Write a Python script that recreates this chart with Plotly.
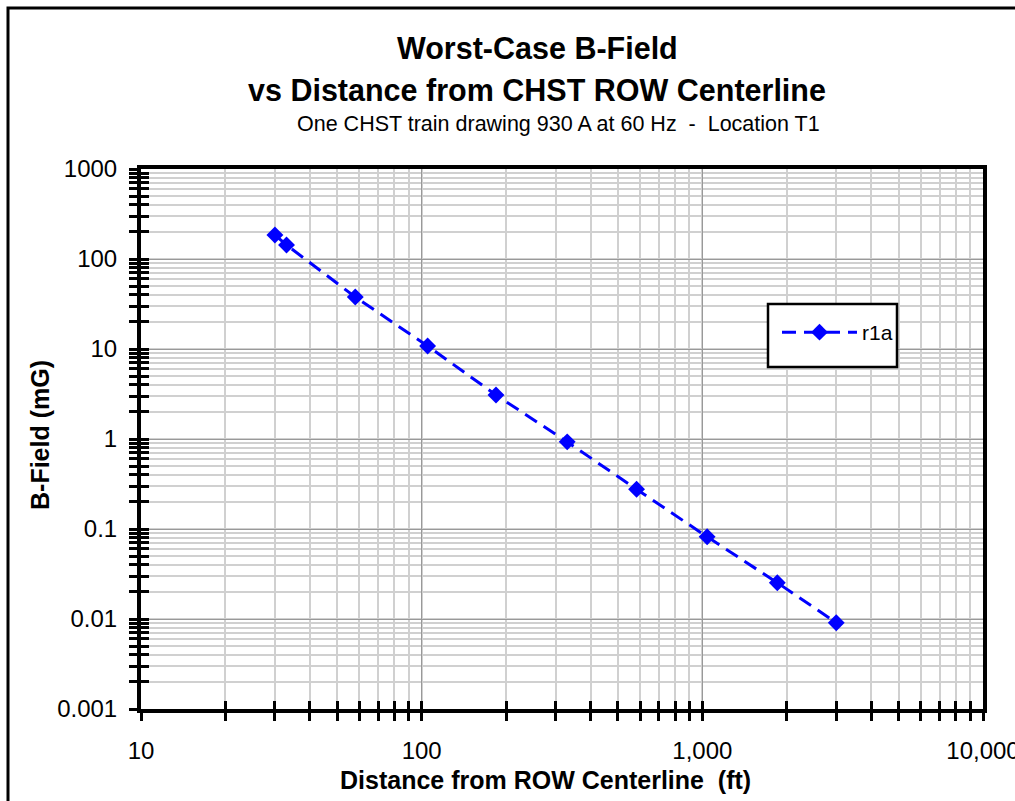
import plotly.graph_objects as go

# ---- data ----
distance_ft = [30, 33, 58, 105, 184, 330, 583, 1040, 1850, 3000]
b_field_mG = [185, 143, 37.8, 10.8, 3.08, 0.93, 0.276, 0.082, 0.0253, 0.0091]
series_name = "r1a"

x_tickvals = [10, 100, 1000, 10000]
x_ticktext = ["10", "100", "1,000", "10,000"]
y_tickvals = [0.001, 0.01, 0.1, 1, 10, 100, 1000]
y_ticktext = ["0.001", "0.01", "0.1", "1", "10", "100", "1000"]

title_1 = "Worst-Case B-Field"
title_2 = "vs Distance from CHST ROW Centerline"
subtitle = "One CHST train drawing 930 A at 60 Hz  -  Location T1"
x_title = "Distance from ROW Centerline  (ft)"
y_title = "B-Field (mG)"

FONT = "Liberation Sans, Arial, sans-serif"
W, H = 1015, 801
L, R, T, B = 141, 983, 169, 709   # plot area pixels
pw, ph = R - L, B - T

def px(x):
    return (x - L) / pw

def py(y):
    return (B - y) / ph

fig = go.Figure()
fig.add_trace(go.Scatter(
    x=distance_ft, y=b_field_mG, name=series_name,
    mode="lines+markers",
    line=dict(color="#0000FF", width=3, dash="14px,8px"),
    marker=dict(symbol="diamond", size=13, color="#0000FF"),
))
# transparent copy on the overlay axes so that their inside ticks are drawn
fig.add_trace(go.Scatter(
    x=distance_ft, y=b_field_mG, xaxis="x2", yaxis="y2",
    mode="markers", marker=dict(opacity=0), showlegend=False, hoverinfo="skip",
))

minor_common = dict(dtick="D1", ticklen=8, tickwidth=3, tickcolor="black")
TICKFONT = dict(family=FONT, size=24, color="black")

fig.update_layout(
    width=W, height=H,
    margin=dict(l=L, r=W - R, t=T, b=H - B, pad=0, autoexpand=False),
    paper_bgcolor="white", plot_bgcolor="white",
    font=dict(family=FONT, size=22, color="black"),
    showlegend=True,
    legend=dict(x=px(777), y=py(312), xanchor="left", yanchor="top",
                bgcolor="rgba(0,0,0,0)", borderwidth=0,
                itemwidth=75, font=dict(family=FONT, size=21)),
    xaxis=dict(type="log", range=[1, 4], tickvals=x_tickvals, ticktext=x_ticktext,
               tickfont=TICKFONT, ticklabeloverflow="allow", automargin=False,
               ticks="outside", ticklen=8, tickwidth=3, tickcolor="black",
               showline=True, linecolor="black", linewidth=4, mirror=True,
               showgrid=True, gridcolor="#999999", gridwidth=1,
               ticklabelstandoff=9, zeroline=False,
               minor=dict(ticks="outside", showgrid=True, gridcolor="#d0d0d0",
                          gridwidth=1.5, **minor_common)),
    yaxis=dict(type="log", range=[-3, 3], tickvals=y_tickvals, ticktext=y_ticktext,
               tickfont=TICKFONT, ticklabeloverflow="allow", automargin=False,
               ticks="outside", ticklen=8, tickwidth=3, tickcolor="black",
               showline=True, linecolor="black", linewidth=4, mirror=True,
               showgrid=True, gridcolor="#999999", gridwidth=1,
               ticklabelstandoff=7, zeroline=False,
               minor=dict(ticks="outside", showgrid=True, gridcolor="#d0d0d0",
                          gridwidth=1.5, **minor_common)),
    xaxis2=dict(type="log", range=[1, 4], overlaying="x", anchor="y2", side="bottom",
                tickvals=x_tickvals, showticklabels=False, automargin=False,
                ticks="inside", ticklen=8, tickwidth=3, tickcolor="black",
                showline=False, showgrid=False, zeroline=False,
                minor=dict(ticks="inside", showgrid=False, **minor_common)),
    yaxis2=dict(type="log", range=[-3, 3], overlaying="y", anchor="x2", side="left",
                tickvals=y_tickvals, showticklabels=False, automargin=False,
                ticks="inside", ticklen=8, tickwidth=3, tickcolor="black",
                showline=False, showgrid=False, zeroline=False,
                minor=dict(ticks="inside", showgrid=False, **minor_common)),
)

# outer chart border (cropped on right and bottom)
fig.add_shape(type="rect", xref="paper", yref="paper",
              x0=px(8), x1=px(1040), y0=py(830), y1=py(8),
              line=dict(color="black", width=3), fillcolor="rgba(0,0,0,0)", layer="above")
# legend box
fig.add_shape(type="rect", xref="paper", yref="paper",
              x0=px(768), x1=px(897), y0=py(367), y1=py(304),
              line=dict(color="black", width=2.5), fillcolor="white", layer="above")

anns = [
    dict(text="<b>" + title_1 + "</b>", x=px(537), y=py(48), size=30.5),
    dict(text="<b>" + title_2 + "</b>", x=px(537), y=py(90), size=30.5),
    dict(text=subtitle, x=px(558), y=py(124), size=21.5),
    dict(text="<b>" + x_title + "</b>", x=px(545), y=py(780), size=25),
]
for a in anns:
    fig.add_annotation(text=a["text"], x=a["x"], y=a["y"], xref="paper", yref="paper",
                       xanchor="center", yanchor="middle", showarrow=False,
                       font=dict(family=FONT, size=a["size"], color="black"))
fig.add_annotation(text="<b>" + y_title + "</b>", x=px(40), y=py(435), xref="paper", yref="paper",
                   xanchor="center", yanchor="middle", showarrow=False, textangle=-90,
                   font=dict(family=FONT, size=25, color="black"))

fig.write_html("out.html")
